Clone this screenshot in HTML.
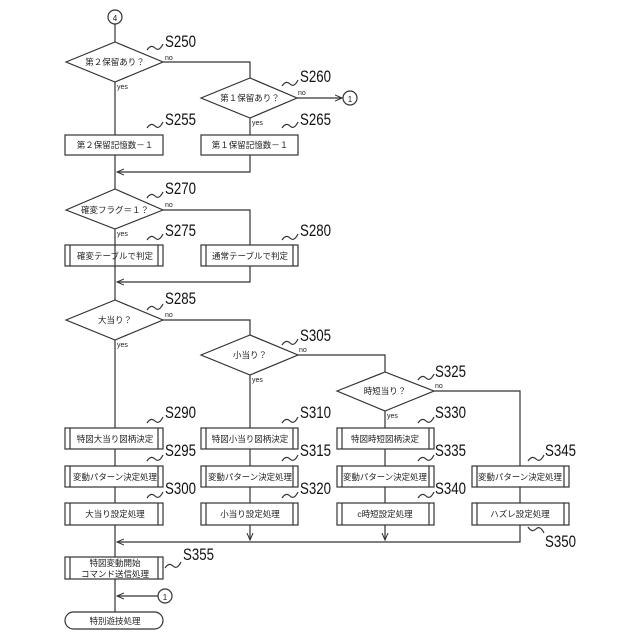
<!DOCTYPE html>
<html><head><meta charset="utf-8"><style>body{margin:0;background:#fff}svg{display:block}</style></head><body>
<svg width="640" height="640" viewBox="0 0 640 640" xmlns="http://www.w3.org/2000/svg" font-family="'Liberation Sans','Noto Sans CJK JP',sans-serif">
<defs><marker id="a" markerWidth="8" markerHeight="8" refX="7" refY="4" orient="auto" markerUnits="userSpaceOnUse"><path d="M0,1 L7,4 L0,7" fill="none" stroke="#333" stroke-width="1"/></marker></defs>
<g stroke="#333" stroke-width="1.2" fill="none">
<circle cx="115" cy="17" r="7"/>
<line x1="115" y1="24" x2="115" y2="42"/>
<polygon points="66,62 115,42 163,62 115,82" fill="#fff"/>
<line x1="115" y1="82" x2="115" y2="135"/>
<polyline points="163,62 250,62 250,78"/>
<polygon points="201,98 250,78 297,98 250,118" fill="#fff"/>
<line x1="297" y1="98" x2="342" y2="98" marker-end="url(#a)"/>
<circle cx="350" cy="98" r="7"/>
<line x1="250" y1="118" x2="250" y2="135"/>
<rect x="65" y="135" width="98" height="20"/>
<rect x="201" y="135" width="97" height="20"/>
<line x1="115" y1="155" x2="115" y2="189"/>
<polyline points="250,155 250,172 117,172" marker-end="url(#a)"/>
<polygon points="66,210 115,189 163,210 115,229" fill="#fff"/>
<polyline points="163,210 250,210 250,245"/>
<line x1="115" y1="229" x2="115" y2="300"/>
<rect x="65" y="245" width="98" height="21"/><line x1="70" y1="245" x2="70" y2="266"/><line x1="158" y1="245" x2="158" y2="266"/>
<rect x="201" y="245" width="97" height="21"/><line x1="206" y1="245" x2="206" y2="266"/><line x1="293" y1="245" x2="293" y2="266"/>
<polyline points="250,266 250,282 117,282" marker-end="url(#a)"/>
<polygon points="66,320 115,300 163,320 115,340" fill="#fff"/>
<polyline points="163,320 250,320 250,335"/>
<line x1="115" y1="340" x2="115" y2="557"/>
<polygon points="201,355 250,335 298,355 250,375" fill="#fff"/>
<polyline points="298,355 385,355 385,372"/>
<line x1="250" y1="375" x2="250" y2="540" marker-end="url(#a)"/>
<polygon points="337,391 385,372 434,391 385,411" fill="#fff"/>
<polyline points="434,391 520,391 520,542 117,542" marker-end="url(#a)"/>
<line x1="385" y1="411" x2="385" y2="540" marker-end="url(#a)"/>
<g fill="#fff">
<rect x="65" y="428" width="98" height="21"/><rect x="65" y="466" width="98" height="21"/><rect x="65" y="503" width="98" height="22"/>
<rect x="201" y="428" width="97" height="21"/><rect x="201" y="466" width="97" height="21"/><rect x="201" y="503" width="97" height="22"/>
<rect x="337" y="428" width="97" height="21"/><rect x="337" y="466" width="97" height="21"/><rect x="337" y="503" width="97" height="22"/>
<rect x="472" y="466" width="97" height="21"/><rect x="472" y="503" width="97" height="22"/>
<rect x="65" y="557" width="98" height="22"/>
</g>
<path d="M70,428v21M158,428v21M70,466v21M158,466v21M70,503v22M158,503v22M206,428v21M293,428v21M206,466v21M293,466v21M206,503v22M293,503v22M342,428v21M429,428v21M342,466v21M429,466v21M342,503v22M429,503v22M477,466v21M564,466v21M477,503v22M564,503v22M70,557v22M158,557v22"/>
<line x1="115" y1="579" x2="115" y2="612"/>
<circle cx="165" cy="596" r="7"/>
<line x1="158" y1="596" x2="117" y2="596" marker-end="url(#a)"/>
<rect x="65" y="612" width="98" height="17" rx="8.5" fill="#fff"/>
<path d="M147,50 q4,-6 8,-2 q4,4 8,-4"/>
<path d="M282,86 q4,-6 8,-2 q4,4 8,-4"/>
<path d="M147,128 q4,-6 8,-2 q4,4 8,-4"/>
<path d="M282,128 q4,-6 8,-2 q4,4 8,-4"/>
<path d="M147,198 q4,-6 8,-2 q4,4 8,-4"/>
<path d="M147,240 q4,-6 8,-2 q4,4 8,-4"/>
<path d="M282,240 q4,-6 8,-2 q4,4 8,-4"/>
<path d="M147,310 q4,-6 8,-2 q4,4 8,-4"/>
<path d="M282,345 q4,-6 8,-2 q4,4 8,-4"/>
<path d="M418,380 q4,-6 8,-2 q4,4 8,-4"/>
<path d="M147,423 q4,-6 8,-2 q4,4 8,-4"/><path d="M147,461 q4,-6 8,-2 q4,4 8,-4"/><path d="M147,498 q4,-6 8,-2 q4,4 8,-4"/>
<path d="M282,423 q4,-6 8,-2 q4,4 8,-4"/><path d="M282,461 q4,-6 8,-2 q4,4 8,-4"/><path d="M282,498 q4,-6 8,-2 q4,4 8,-4"/>
<path d="M418,423 q4,-6 8,-2 q4,4 8,-4"/><path d="M418,461 q4,-6 8,-2 q4,4 8,-4"/><path d="M418,498 q4,-6 8,-2 q4,4 8,-4"/>
<path d="M528,461 q4,-6 8,-2 q4,4 8,-4"/>
<path d="M528,527 q4,6 8,2 q4,-4 8,4"/>
<path d="M165,568 q4,-6 8,-2 q4,4 8,-4"/>
</g>
<g font-size="8.5" fill="#222" text-anchor="middle">
<text x="115" y="21" font-size="8">4</text>
<text x="350" y="102" font-size="8">1</text>
<text x="165" y="600" font-size="8">1</text>
<text x="115" y="65">第２保留あり？</text>
<text x="250" y="101">第１保留あり？</text>
<text x="115" y="148">第２保留記憶数－１</text>
<text x="250" y="148">第１保留記憶数－１</text>
<text x="115" y="213">確変フラグ＝１？</text>
<text x="115" y="259">確変テーブルで判定</text>
<text x="250" y="259">通常テーブルで判定</text>
<text x="115" y="323">大当り？</text>
<text x="250" y="358">小当り？</text>
<text x="385" y="394">時短当り？</text>
<text x="115" y="442">特図大当り図柄決定</text>
<text x="250" y="442">特図小当り図柄決定</text>
<text x="385" y="442">特図時短図柄決定</text>
<text x="115" y="480" textLength="84" lengthAdjust="spacingAndGlyphs">変動パターン決定処理</text>
<text x="250" y="480" textLength="84" lengthAdjust="spacingAndGlyphs">変動パターン決定処理</text>
<text x="385" y="480" textLength="84" lengthAdjust="spacingAndGlyphs">変動パターン決定処理</text>
<text x="520" y="480" textLength="84" lengthAdjust="spacingAndGlyphs">変動パターン決定処理</text>
<text x="115" y="517">大当り設定処理</text>
<text x="250" y="517">小当り設定処理</text>
<text x="385" y="517">c時短設定処理</text>
<text x="520" y="517">ハズレ設定処理</text>
<text x="115" y="566">特図変動開始</text>
<text x="115" y="577">コマンド送信処理</text>
<text x="115" y="624">特別遊技処理</text>
</g>
<g font-size="7" fill="#222">
<text x="165" y="60">no</text><text x="117" y="89">yes</text>
<text x="298" y="95">no</text><text x="252" y="125">yes</text>
<text x="165" y="207">no</text><text x="117" y="236">yes</text>
<text x="165" y="317">no</text><text x="117" y="347">yes</text>
<text x="299" y="352">no</text><text x="252" y="382">yes</text>
<text x="435" y="388">no</text><text x="387" y="418">yes</text>
</g>
<g font-size="17" fill="#111" textLength="31" lengthAdjust="spacingAndGlyphs">
<text x="165" y="47" textLength="31" lengthAdjust="spacingAndGlyphs">S250</text><text x="300" y="82" textLength="31" lengthAdjust="spacingAndGlyphs">S260</text>
<text x="165" y="125" textLength="31" lengthAdjust="spacingAndGlyphs">S255</text><text x="300" y="125" textLength="31" lengthAdjust="spacingAndGlyphs">S265</text>
<text x="165" y="194" textLength="31" lengthAdjust="spacingAndGlyphs">S270</text><text x="165" y="236" textLength="31" lengthAdjust="spacingAndGlyphs">S275</text><text x="300" y="236" textLength="31" lengthAdjust="spacingAndGlyphs">S280</text>
<text x="165" y="304" textLength="31" lengthAdjust="spacingAndGlyphs">S285</text><text x="300" y="341" textLength="31" lengthAdjust="spacingAndGlyphs">S305</text><text x="435" y="377" textLength="31" lengthAdjust="spacingAndGlyphs">S325</text>
<text x="165" y="418" textLength="31" lengthAdjust="spacingAndGlyphs">S290</text><text x="300" y="418" textLength="31" lengthAdjust="spacingAndGlyphs">S310</text><text x="435" y="418" textLength="31" lengthAdjust="spacingAndGlyphs">S330</text>
<text x="165" y="456" textLength="31" lengthAdjust="spacingAndGlyphs">S295</text><text x="300" y="456" textLength="31" lengthAdjust="spacingAndGlyphs">S315</text><text x="435" y="456" textLength="31" lengthAdjust="spacingAndGlyphs">S335</text><text x="545" y="456" textLength="31" lengthAdjust="spacingAndGlyphs">S345</text>
<text x="165" y="494" textLength="31" lengthAdjust="spacingAndGlyphs">S300</text><text x="300" y="494" textLength="31" lengthAdjust="spacingAndGlyphs">S320</text><text x="435" y="494" textLength="31" lengthAdjust="spacingAndGlyphs">S340</text>
<text x="545" y="547" textLength="31" lengthAdjust="spacingAndGlyphs">S350</text>
<text x="183" y="560" textLength="31" lengthAdjust="spacingAndGlyphs">S355</text>
</g>
</svg>
</body></html>
